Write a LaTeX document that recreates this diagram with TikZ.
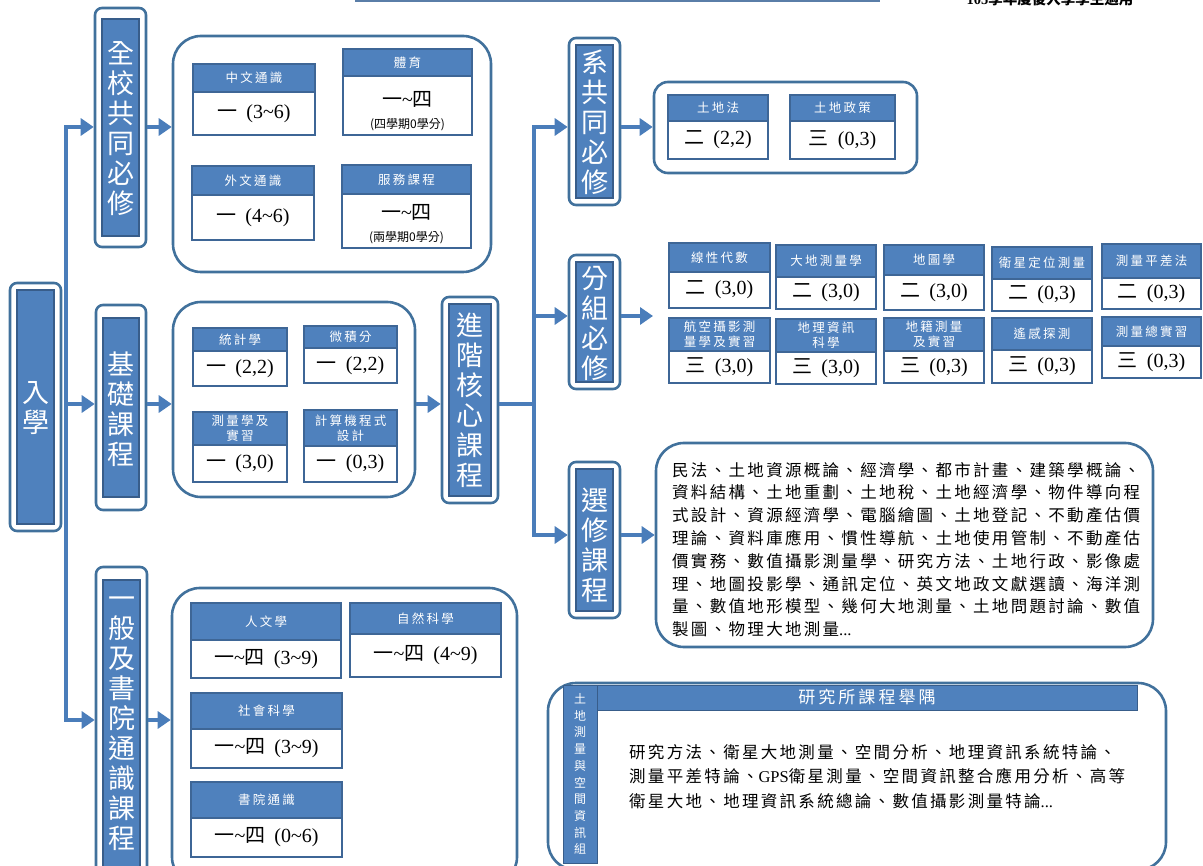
\documentclass[tikz,border=0pt]{standalone}
\usepackage{fontspec}
\setmainfont{Liberation Serif}
\newfontfamily\cjk{Noto Sans CJK TC}
\newfontfamily\cjkh[LetterSpace=18]{Noto Sans CJK TC}
\newfontfamily\cjkb[LetterSpace=14]{Noto Sans CJK TC}
\usetikzlibrary{arrows.meta,fit,calc}
\definecolor{fillblue}{HTML}{4F81BD}
\definecolor{darkblue}{HTML}{385D8A}
\definecolor{frameblue}{HTML}{41719C}
\definecolor{cborder}{HTML}{3E6696}
\definecolor{arrowblue}{HTML}{4A7DBA}
\definecolor{topblue}{HTML}{5A7EA8}
\newcommand\bt[2]{{\cjk #1}\hspace{0.45em}#2}
\newcommand\ys{{\cjk 一}\textasciitilde{\cjk 四}}
\tikzset{
 labframe/.style={draw=frameblue, line width=2.6pt, rounded corners=7pt, fill=white, inner sep=0pt},
 labinner/.style={draw=darkblue, line width=1.6pt, fill=fillblue, inner sep=0pt},
 labtext/.style={text=white, font=\cjk\fontsize{27}{30}\selectfont, align=center, inner sep=0pt},
 grp/.style={draw=frameblue, line width=2.6pt, rounded corners=28pt, fill=white, inner sep=0pt},
 cbox/.style={draw=cborder, line width=1.8pt, fill=white, inner sep=0pt},
 chead/.style={draw=cborder, line width=1.8pt, fill=fillblue, inner sep=0pt},
 htext/.style={text=white, font=\cjkh\fontsize{12.5}{15}\selectfont, align=center, inner sep=0pt},
 btext/.style={text=black, font=\fontsize{20}{22}\selectfont, align=center, inner sep=0pt},
 arr/.style={draw=arrowblue, line width=4pt, -{Triangle[length=13pt,width=17pt]}},
 arrboth/.style={draw=arrowblue, line width=4pt, {Triangle[length=13pt,width=17pt]}-{Triangle[length=13pt,width=17pt]}},
 plain/.style={draw=arrowblue, line width=4pt},
}
% name, x1, y1, x2, y2, vgap, text y, text
\newcommand\lab[8]{%
  \node[labframe, fit={(#2,#3) (#4,#5)}] (#1o) {};
  \node[labinner, fit={(#2+7,#3+#6) (#4-7,#5-#6)}] (#1) {};
  \node[labtext] (#1t) at ({(#2+#4)/2},#7) {#8};
}
% name, x1, y1, x2, yh, y2, header, body
\newcommand\course[8]{%
  \node[cbox, fit={(#2,#3) (#4,#6)}] (#1) {};
  \node[chead, fit={(#2,#3) (#4,#5)}] (#1h) {};
  \node[htext] (#1ht) at (#1h.center) {#7};
  \node[btext] (#1bt) at ({(#2+#4)/2},{(#5+#6)/2}) {#8};
}
\begin{document}
\begin{tikzpicture}[x=1pt,y=-1pt]
\useasboundingbox (0,0) rectangle (1203,866);
% top decoration
\coordinate (tl1) at (355,1);
\coordinate (tl2) at (880,1);
\draw[draw=topblue, line width=2pt] (tl1) -- (tl2);
\node[anchor=base, inner sep=0pt, font=\bfseries\fontsize{14.5}{16}\selectfont] (note) at (1050,4.5) {105{\cjk\bfseries 學年度後入學學生適用}};

% group boxes
\node[grp, fit={(173,36) (491,272)}] (g1) {};
\node[grp, fit={(173,302) (415,497)}] (g2) {};
\node[grp, rounded corners=14pt, fit={(654,82) (917,173)}] (g3) {};
\node[grp, fit={(656,443) (1153,647)}] (g4) {};
\node[grp, fit={(172,588) (517,885)}] (g5) {};
\node[grp, fit={(548,683) (1166,870)}] (g6) {};

% label frames
\lab{rx}{10}{283}{61}{531}{7}{408}{入\\學}
\lab{qx}{95}{8}{146}{247}{11}{129}{全\\校\\共\\同\\必\\修}
\lab{jc}{96}{305}{146}{510}{13}{409}{基\\礎\\課\\程}
\lab{yb}{96}{567}{147}{885}{13}{724}{一\\般\\及\\書\\院\\通\\識\\課\\程}
\lab{jj}{442}{297}{498}{503}{7}{400}{進\\階\\核\\心\\課\\程}
\lab{xg}{569}{38}{620}{205}{7}{122}{系\\共\\同\\必\\修}
\lab{fz}{569}{255}{620}{389}{7}{323}{分\\組\\必\\修}
\lab{xx}{569}{462}{620}{618}{7}{545}{選\\修\\課\\程}

% connectors
\coordinate (ta) at (66,127);
\coordinate (tb) at (66,404);
\coordinate (tc) at (66,720);
\coordinate (ua) at (534,127);
\coordinate (ub) at (534,316);
\coordinate (uc) at (534,535);
\coordinate (uj) at (534,404);
\coordinate (fzend) at (653,316);
\draw[arrboth] (ta -| qxo.west) -- (ta) -- (tc) -- (tc -| ybo.west);
\draw[arr] (tb) -- (tb -| jco.west);
\draw[arr] (qxo.east |- ta) -- (g1.west |- ta);
\draw[arr] (jco.east |- tb) -- (g2.west |- tb);
\draw[arr] (ybo.east |- tc) -- (g5.west |- tc);
\draw[arr] (g2.east |- tb) -- (jjo.west |- tb);
\draw[plain] (jjo.east |- uj) -- (uj);
\draw[arrboth] (ua -| xgo.west) -- (ua) -- (uc) -- (uc -| xxo.west);
\draw[arr] (ub) -- (ub -| fzo.west);
\draw[arr] (xgo.east |- ua) -- (g3.west |- ua);
\draw[arr] (fzo.east |- ub) -- (fzend);
\draw[arr] (xxo.east |- uc) -- (g4.west |- uc);

% group 1
\course{zw}{193}{64}{315}{92}{135}{中文通識}{\bt{一}{(3\textasciitilde6)}}
\course{ty}{343}{49}{472}{76}{135}{體育}{}
\node[btext] (tyb1) at (407.5,99) {\ys};
\node[text=black, inner sep=0pt, font=\cjk\fontsize{12}{14}\selectfont] (tyb2) at (407.5,125) {(四學期0學分)};
\course{ww}{192}{166}{314}{195}{240}{外文通識}{\bt{一}{(4\textasciitilde6)}}
\course{fw}{342}{165}{471}{194}{248}{服務課程}{}
\node[btext] (fwb1) at (406.5,212) {\ys};
\node[text=black, inner sep=0pt, font=\cjk\fontsize{12}{14}\selectfont] (fwb2) at (406.5,238) {(兩學期0學分)};

% group 2
\course{tj}{193}{328}{287}{351}{386}{統計學}{\bt{一}{(2,2)}}
\course{wj}{304}{326}{397}{348}{383}{微積分}{\bt{一}{(2,2)}}
\course{cl}{193}{412}{287}{445}{482}{測量學及\\實習}{\bt{一}{(3,0)}}
\course{js}{304}{410}{397}{446}{482}{計算機程式\\設計}{\bt{一}{(0,3)}}

% group 3
\course{td}{668}{95}{768}{121}{159}{土地法}{\bt{二}{(2,2)}}
\course{tz}{790}{95}{895}{121}{159}{土地政策}{\bt{三}{(0,3)}}

% grid
\course{xd}{669}{243}{770}{272}{308}{線性代數}{\bt{二}{(3,0)}}
\course{dd}{776}{245}{876}{277}{309}{大地測量學}{\bt{二}{(3,0)}}
\course{dt}{884}{245}{984}{275}{310}{地圖學}{\bt{二}{(3,0)}}
\course{wx}{992}{247}{1092}{279}{311}{衛星定位測量}{\bt{二}{(0,3)}}
\course{pc}{1102}{244}{1201}{278}{309}{測量平差法}{\bt{二}{(0,3)}}
\course{hk}{669}{318}{770}{351}{383}{航空攝影測\\量學及實習}{\bt{三}{(3,0)}}
\course{dl}{776}{319}{876}{352}{384}{地理資訊\\科學}{\bt{三}{(3,0)}}
\course{dj}{884}{318}{984}{351}{383}{地籍測量\\及實習}{\bt{三}{(0,3)}}
\course{yg}{992}{318}{1092}{350}{383}{遙感探測}{\bt{三}{(0,3)}}
\course{zs}{1102}{317}{1201}{346}{378}{測量總實習}{\bt{三}{(0,3)}}

% group 5
\course{rw}{191}{603}{341}{640}{678}{人文學}{\ys\hspace{0.45em}(3\textasciitilde9)}
\course{zr}{350}{603}{501}{634}{677}{自然科學}{\ys\hspace{0.45em}(4\textasciitilde9)}
\course{sh}{191}{693}{342}{729}{768}{社會科學}{\ys\hspace{0.45em}(3\textasciitilde9)}
\course{sy}{191}{782}{342}{818}{857}{書院通識}{\ys\hspace{0.45em}(0\textasciitilde6)}

% electives text
\node[anchor=north west, align=left, inner sep=0pt, font=\cjkb\fontsize{16.5}{22.8}\selectfont] (g4t) at (672,462) {民法、土地資源概論、經濟學、都市計畫、建築學概論、\\資料結構、土地重劃、土地稅、土地經濟學、物件導向程\\式設計、資源經濟學、電腦繪圖、土地登記、不動產估價\\理論、資料庫應用、慣性導航、土地使用管制、不動產估\\價實務、數值攝影測量學、研究方法、土地行政、影像處\\理、地圖投影學、通訊定位、英文地政文獻選讀、海洋測\\量、數值地形模型、幾何大地測量、土地問題討論、數值\\製圖、物理大地測量{\rmfamily...}};

% graduate box
\node[draw=darkblue, line width=1pt, fill=fillblue, inner sep=0pt, fit={(563,685) (597,863)}] (sb) {};
\node[draw=darkblue, line width=1pt, fill=fillblue, inner sep=0pt, fit={(597,685) (1137,710)}] (hb) {};
\node[text=white, inner sep=0pt, align=center, font=\cjk\fontsize{12}{16.7}\selectfont] (sbt) at (sb.center) {土\\地\\測\\量\\與\\空\\間\\資\\訊\\組};
\node[text=white, inner sep=0pt, font=\cjkh\fontsize{17}{20}\selectfont] (hbt) at (hb.center) {研究所課程舉隅};
\node[anchor=north west, align=left, inner sep=0pt, font=\cjkb\fontsize{16.5}{24.5}\selectfont] (g6t) at (629,744) {研究方法、衛星大地測量、空間分析、地理資訊系統特論、\\測量平差特論、{\rmfamily GPS}衛星測量、空間資訊整合應用分析、高等\\衛星大地、地理資訊系統總論、數值攝影測量特論{\rmfamily...}};
\end{tikzpicture}
\end{document}
